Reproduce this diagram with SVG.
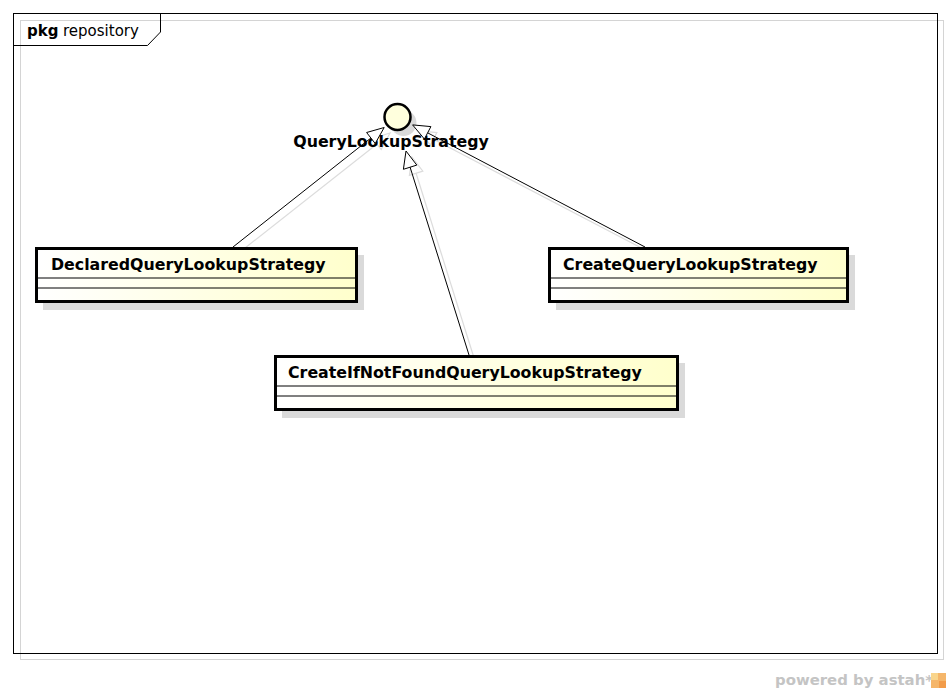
<svg xmlns="http://www.w3.org/2000/svg" width="950" height="693" viewBox="0 0 950 693">
<style>
.frame{fill:none;stroke:#000;stroke-width:1}
.frameShadow{fill:none;stroke:#d4d4d4;stroke-width:1}
.box{fill:url(#cls);stroke:#000;stroke-width:3}
.shadow{fill:#dadada;stroke:none}
.sep{stroke:#000;stroke-width:1}
.name{font-family:"DejaVu Sans",sans-serif;font-weight:bold;font-size:15.8px;fill:#000}
.edge{stroke:#000;stroke-width:1;fill:none}
.edgeShadow{stroke:#dcdcdc;stroke-width:1.2;fill:none}
.head{fill:#fff;stroke:#000;stroke-width:1}
.headShadow{fill:none;stroke:#dcdcdc;stroke-width:1.2}
</style>
<defs>
<linearGradient id="cls" x1="0" y1="0" x2="1" y2="0">
<stop offset="0" stop-color="#ffffff"/>
<stop offset="1" stop-color="#ffffcc"/>
</linearGradient>
</defs>
<rect width="950" height="693" fill="#fff"/>
<g id="frame">
<rect class="frameShadow" x="20.5" y="20.5" width="923" height="639"/>
<rect class="frame" x="13.5" y="13.5" width="924" height="640"/>
<path class="frame" d="M13.5,45.5 H147.5 L160.5,32 V13.5"/>
<text x="27" y="36" font-family="DejaVu Sans,sans-serif" font-size="15px"><tspan font-weight="bold">pkg</tspan><tspan x="63">repository</tspan></text>
</g>
<g id="connector-shadows">
<line class="edgeShadow" x1="245" y1="248" x2="377" y2="144"/>
<polygon class="headShadow" points="390,133 381.2,149.5 372.6,138.5"/>
<line class="edgeShadow" x1="651" y1="253" x2="433" y2="139"/>
<polygon class="headShadow" points="418.6,130.9 436.9,132.6 430.4,145"/>
<line class="edgeShadow" x1="475" y1="361" x2="416" y2="173"/>
<polygon class="headShadow" points="412,157 422.8,171.1 409.4,175.3"/>
</g>
<g id="QueryLookupStrategy">
<circle cx="403.5" cy="123" r="13" fill="#dadada"/>
<circle cx="397.5" cy="117" r="13" fill="#ffffdd" stroke="#000" stroke-width="2.5"/>
<text class="name" x="391" y="147" text-anchor="middle">QueryLookupStrategy</text>
</g>
<g id="connectors">
<line class="edge" x1="233" y1="247" x2="370.9" y2="138"/>
<polygon class="head" points="384.2,127.5 375.2,143.5 366.6,132.5"/>
<line class="edge" x1="645" y1="247" x2="427.6" y2="132.8"/>
<polygon class="head" points="412.6,124.9 430.9,126.6 424.4,139"/>
<line class="edge" x1="469" y1="355" x2="410.1" y2="167.2"/>
<polygon class="head" points="406,151 416.8,165.1 403.4,169.3"/>
</g>
<g id="DeclaredQueryLookupStrategy">
<rect class="shadow" x="43" y="255" width="321" height="55"/>
<rect class="box" x="36.5" y="248.5" width="320" height="53"/>
<line class="sep" x1="38" y1="278" x2="355" y2="278"/>
<line class="sep" x1="38" y1="288" x2="355" y2="288"/>
<text class="name" x="51" y="270">DeclaredQueryLookupStrategy</text>
</g>
<g id="CreateQueryLookupStrategy">
<rect class="shadow" x="556" y="255" width="299" height="55"/>
<rect class="box" x="549.5" y="248.5" width="298" height="53"/>
<line class="sep" x1="551" y1="278" x2="846" y2="278"/>
<line class="sep" x1="551" y1="288" x2="846" y2="288"/>
<text class="name" x="563" y="270">CreateQueryLookupStrategy</text>
</g>
<g id="CreateIfNotFoundQueryLookupStrategy">
<rect class="shadow" x="282" y="363" width="403" height="55"/>
<rect class="box" x="275.5" y="356.5" width="402" height="53"/>
<line class="sep" x1="277" y1="386" x2="676" y2="386"/>
<line class="sep" x1="277" y1="396" x2="676" y2="396"/>
<text class="name" x="288" y="378">CreateIfNotFoundQueryLookupStrategy</text>
</g>
<g id="watermark">
<text x="775" y="685" font-family="DejaVu Sans,sans-serif" font-weight="bold" font-size="14.9px" fill="#c4c4c4">powered by astah*</text>
<rect x="931" y="673" width="15" height="15" fill="#f5b66a"/>
<rect x="931" y="673" width="7" height="7" fill="#f9d58c"/>
<rect x="939" y="681" width="7" height="7" fill="#f29c4a"/>
</g>
</svg>
